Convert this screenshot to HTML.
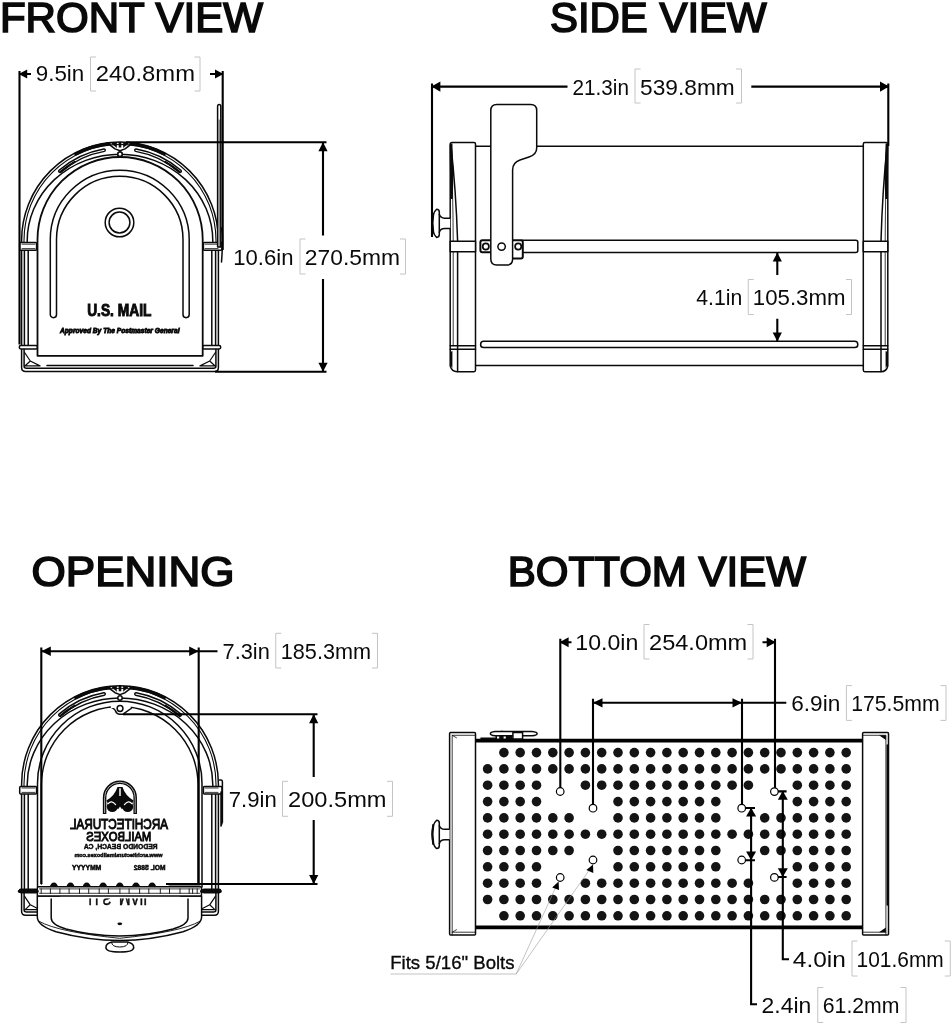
<!DOCTYPE html>
<html><head><meta charset="utf-8"><title>Mailbox dimensions</title>
<style>
html,body{margin:0;padding:0;background:#fff;}
body{width:952px;height:1024px;overflow:hidden;}
svg{display:block;will-change:transform;font-family:'Liberation Sans', sans-serif;fill:#0a0a0a;}
.d{fill:none;stroke:#0a0a0a;stroke-width:1.5;stroke-linecap:round;stroke-linejoin:round}
.w{fill:#fff;stroke:#0a0a0a;stroke-width:1.5;stroke-linejoin:round}
.k{fill:#0a0a0a;stroke:none}
.dm{fill:none;stroke:#000;stroke-width:2.1}
.th{fill:none;stroke:#9a9a9a;stroke-width:0.6}
</style></head><body>
<svg width="952" height="1024" viewBox="0 0 952 1024">
<rect width="952" height="1024" fill="#fff"/>
<g id="titles">
<text x="-0.1" y="31.8" font-size="42.6" font-weight="normal" textLength="263.10" lengthAdjust="spacingAndGlyphs" stroke="#0a0a0a" stroke-width="1.7" stroke-linejoin="miter">FRONT VIEW</text>
<text x="550.0" y="31.8" font-size="42.6" font-weight="normal" textLength="216.60" lengthAdjust="spacingAndGlyphs" stroke="#0a0a0a" stroke-width="1.7" stroke-linejoin="miter">SIDE VIEW</text>
<text x="31.5" y="585.6" font-size="42.6" font-weight="normal" textLength="203.10" lengthAdjust="spacingAndGlyphs" stroke="#0a0a0a" stroke-width="1.7" stroke-linejoin="miter">OPENING</text>
<text x="507.8" y="585.6" font-size="42.6" font-weight="normal" textLength="298.20" lengthAdjust="spacingAndGlyphs" stroke="#0a0a0a" stroke-width="1.7" stroke-linejoin="miter">BOTTOM VIEW</text>
</g>
<g class="d">
<path d="M21.599999999999994,345V240.4A98.4,98.4 0 0 1 218.4,240.4V345"/>
<path d="M21.599999999999994,349V367.5Q21.599999999999994,371.5 25.599999999999994,371.5H214.4Q218.4,371.5 218.4,367.5V349"/>
<path d="M24.099999999999994,349V366.5Q24.099999999999994,368.2 26.5,368.2H213.5Q215.9,368.2 215.9,366.5V349"/>
<path d="M24.0,242.4V240.4A96,96 0 0 1 216.0,240.4V242.4" stroke-width="1.1"/>
<path d="M24.400000000000006,250V345M215.6,250V345M28.200000000000003,250V345M211.8,250V345"/>
<path d="M27.200000000000003,242.4V241A92.8,86.8 0 0 1 212.8,241V242.4"/>
<path d="M74.37,154.58A97.2,97.2 0 0 1 110.68,143.65" stroke-width="3.2" stroke-linecap="butt"/>
<path d="M129.32,143.65A97.2,97.2 0 0 1 165.63,154.58" stroke-width="3.2" stroke-linecap="butt"/>
<path class="d" d="M59.05,170.29A92.9,92.9 0 0 1 103.87,148.91A1.25,1.25 0 0 1 104.30,151.37A90.4,90.4 0 0 0 60.69,172.17A1.25,1.25 0 0 1 59.05,170.29Z"/>
<path class="d" d="M180.95,170.29A92.9,92.9 0 0 0 136.13,148.91A1.25,1.25 0 0 0 135.70,151.37A90.4,90.4 0 0 1 179.31,172.17A1.25,1.25 0 0 0 180.95,170.29Z"/>
<path d="M60.50,171.95A90.7,90.7 0 0 1 74.65,161.85" stroke-width="2.2"/>
<path d="M165.35,161.85A90.7,90.7 0 0 1 179.50,171.95" stroke-width="2.2"/>
<path d="M107.0,142.8L115.0,148.9L120.0,150.8L125.0,148.9L133.0,142.8"/>
<path class="k" d="M110.5,142.5L116.8,147.9V142.10000000000002ZM129.5,142.5L123.2,147.9V142.10000000000002ZM118.7,142.0h2.6v5.4h-2.6Z"/>
<circle cx="120.0" cy="154.2" r="2.2" fill="#fff"/>
<path d="M47.0,365.5H193.0"/>
<path d="M24.599999999999994,352.5L30.299999999999997,361.0L24.599999999999994,366.3M30.299999999999997,361.0L40.0,365.9H24.599999999999994" style="stroke-width:1.2"/>
<path d="M215.4,352.5L209.7,361.0L215.4,366.3M209.7,361.0L200.0,365.9H215.4" style="stroke-width:1.2"/>
</g>
<rect class="w" x="19.70" y="242.6" width="16.90" height="7.6" rx="1"/>
<path class="d" d="M22.0,244.2H35.0M22.0,248.6H35.0" style="stroke-width:0.8"/>
<rect class="w" x="19.30" y="345.5" width="18.3" height="3.4" rx="1.6"/>
<rect class="w" x="203.40" y="242.6" width="18.60" height="7.6" rx="1"/>
<path class="d" d="M218.0,244.2H205.0M218.0,248.6H205.0" style="stroke-width:0.8"/>
<rect class="w" x="202.40" y="345.5" width="18.3" height="3.4" rx="1.6"/>
<g id="front">
<path class="w" d="M37.5,355.8V239.6A82.6,82.6 0 0 1 202.7,239.6V355.8Z" style="stroke-width:1.8"/>
<circle cx="120" cy="154.3" r="2.2" class="w"/>
<path class="d" d="M50.3,314.6V239.6A69.45,69.45 0 0 1 189.2,239.6V314.6A3.1,3.1 0 0 1 183,314.6V239.6A63.25,63.25 0 0 0 56.5,239.6V314.6A3.1,3.1 0 0 1 50.3,314.6Z"/>
<circle class="d" cx="119.5" cy="222.5" r="14.3"/><circle class="d" cx="119.5" cy="222.5" r="10.4"/>
<text x="87.2" y="315.8" font-size="15.6" font-weight="bold" textLength="64.20" lengthAdjust="spacingAndGlyphs" stroke="#0a0a0a" stroke-width="0.9">U.S. MAIL</text>
<text x="60" y="332.8" font-size="7" font-weight="bold" textLength="119.50" lengthAdjust="spacingAndGlyphs" font-style="italic" stroke="#0a0a0a" stroke-width="0.85">Approved By The Postmaster General</text>
<path class="w" d="M217.6,247V106.5Q217.6,104.5 219.2,104.5Q220.8,104.5 220.8,106.5V247Z"/>
<path class="d" d="M219.2,120V247" style="stroke-width:0.7"/>
<path class="d" d="M221.5,228Q223.5,236 221.5,262"/>
</g>
<path class="dm" d="M19.5,71V344.5M222.7,71V250"/>
<path class="dm" d="M19.4,74H31M210,74H222.7"/>
<polygon points="18.80,74.00 27.20,69.60 27.20,78.40" fill="#000"/>
<polygon points="223.40,74.00 215.00,69.60 215.00,78.40" fill="#000"/>
<text x="35.8" y="81.35" font-size="22.8" font-weight="normal" textLength="48.45" lengthAdjust="spacingAndGlyphs" >9.5in</text>
<text x="95.8" y="81.35" font-size="22.8" font-weight="normal" textLength="99.20" lengthAdjust="spacingAndGlyphs" >240.8mm</text>
<path d="M96.0,57H90.5V91H96.0M194.5,57H200V91H194.5" fill="none" stroke="#c4c4c4" stroke-width="1"/>
<path class="dm" d="M126,142.3H326.5M215,371.7H326.5"/>
<path class="dm" d="M323,142.3V235.5M323,279V371.7"/>
<polygon points="323.00,142.30 318.40,151.30 327.60,151.30" fill="#000"/>
<polygon points="323.00,371.70 318.40,362.70 327.60,362.70" fill="#000"/>
<text x="233.3" y="264.75" font-size="22.8" font-weight="normal" textLength="60.20" lengthAdjust="spacingAndGlyphs" >10.6in</text>
<text x="304.8" y="264.75" font-size="22.8" font-weight="normal" textLength="95.20" lengthAdjust="spacingAndGlyphs" >270.5mm</text>
<path d="M305.5,239H300V274H305.5M400.0,239H405.5V274H400.0" fill="none" stroke="#c4c4c4" stroke-width="1"/>
<g id="side">
<path class="d" d="M475.5,146.3H863.3M475.5,365.5H863.3"/>
<path class="w" d="M452,142.6H474Q475.5,142.6 475.5,144V370Q475.5,371.7 474,371.7H457Q452,371.7 450.2,366V144.5Q450.2,142.6 452,142.6Z"/>
<path class="d" d="M450.8,144Q456,190 457.6,241V371.5"/>
<path class="d" d="M451,146Q453,190 453.2,241V345" style="stroke-width:0.8"/>
<path class="k" d="M449.6,145L452.4,143.2L453.1,165Q453.4,185 452.7,199L450.4,199Z"/>
<rect class="w" x="450.2" y="241.2" width="25.3" height="10.5"/>
<path class="d" d="M450.2,345.8H475.5M450.2,349.2H475.5"/>
<path class="k" d="M450.2,352L452.4,351V368L450.2,365Z"/>
<path class="w" d="M450.2,218.2H444.5Q440.6,218.2 439.3,214.6V212Q439.3,209.2 436.6,209.2Q432.2,213 432.2,223.3Q432.2,233.6 436.6,237.4Q439.3,237.4 439.3,234.6V232.2Q440.6,228.6 444.5,228.6H450.2"/>
<path class="d" d="M439.3,214.6V232.2"/>
<path class="d" d="M433.2,214Q431.6,223.3 433.2,232.6" style="stroke-width:2.2"/>
<path class="w" d="M864.8,142.6H886Q887.8,142.6 887.8,144.4V366Q886.5,371.7 881,371.7H864.8Q863.3,371.7 863.3,370V144Q863.3,142.6 864.8,142.6Z"/>
<path class="d" d="M887.2,144Q882.5,190 881,241V371.5"/>
<path class="d" d="M887,147Q885.4,190 885.2,241V345" style="stroke-width:0.8"/>
<path class="k" d="M888.4,145L885.6,143.2L884.9,165Q884.6,185 885.3,199L887.6,199Z"/>
<rect class="w" x="863.3" y="241.2" width="24.5" height="10.5"/>
<path class="d" d="M863.3,345.8H887.8M863.3,349.2H887.8"/>
<path class="k" d="M887.8,352L885.6,351V368L887.8,365Z"/>
<path class="w" d="M522,240.2H855.8Q857.8,240.2 857.8,242.2V250.4Q857.8,252.4 855.8,252.4H522Z"/>
<rect class="w" x="480.6" y="341.3" width="377.2" height="6.2" rx="3.1"/>
<path class="w" d="M482.4,240.2H521Q522.8,240.2 522.8,242.2V256.4Q522.8,258.4 521,258.4H512V252.2H482.4Q480.4,252.2 480.4,250.2V242.2Q480.4,240.2 482.4,240.2Z" style="stroke-width:2"/>
<circle class="d" cx="485.8" cy="246.5" r="3.1" style="stroke-width:1.7"/>
<circle class="d" cx="518.2" cy="246.5" r="3.1" style="stroke-width:1.7"/>
<path class="w" d="M490.8,259V110.5Q490.8,104.5 496.8,104.5H530.7Q536.7,104.5 536.7,110.5V148Q536.7,154.5 529,157L520,160Q512.6,162.5 512.6,170V259Q512.6,265 506.6,265H496.8Q490.8,265 490.8,259Z"/>
<circle class="d" cx="501.6" cy="246.6" r="3.7"/>
</g>
<path class="dm" d="M432,83.4V237M888.3,83.4V146"/>
<path class="dm" d="M432,86.6H567.5M751.3,86.6H888.3"/>
<polygon points="431.40,86.60 440.40,81.50 440.40,91.70" fill="#000"/>
<polygon points="889.00,86.60 880.00,81.50 880.00,91.70" fill="#000"/>
<text x="572.55" y="94.55" font-size="22.8" font-weight="normal" textLength="56.45" lengthAdjust="spacingAndGlyphs" >21.3in</text>
<text x="640.05" y="94.55" font-size="22.8" font-weight="normal" textLength="94.70" lengthAdjust="spacingAndGlyphs" >539.8mm</text>
<path d="M640.5,69H635V103H640.5M736.0,69H741.5V103H736.0" fill="none" stroke="#c4c4c4" stroke-width="1"/>
<path class="dm" d="M777.3,252.6V275M777.3,318.8V341.5"/>
<polygon points="777.30,252.60 772.70,261.60 781.90,261.60" fill="#000"/>
<polygon points="777.30,341.50 772.70,332.50 781.90,332.50" fill="#000"/>
<text x="696.3" y="305.25" font-size="22.8" font-weight="normal" textLength="45.95" lengthAdjust="spacingAndGlyphs" >4.1in</text>
<text x="752.8" y="305.25" font-size="22.8" font-weight="normal" textLength="92.70" lengthAdjust="spacingAndGlyphs" >105.3mm</text>
<path d="M753.75,279.5H748.25V314.5H753.75M846.0,279.5H851.5V314.5H846.0" fill="none" stroke="#c4c4c4" stroke-width="1"/>
<g class="d">
<path d="M21.599999999999994,888.8V784.1999999999999A98.4,98.4 0 0 1 218.4,784.1999999999999V888.8"/>
<path d="M21.599999999999994,892.8V911.3Q21.599999999999994,915.3 25.599999999999994,915.3H214.4Q218.4,915.3 218.4,911.3V892.8"/>
<path d="M24.099999999999994,892.8V910.3Q24.099999999999994,912.0 26.5,912.0H213.5Q215.9,912.0 215.9,910.3V892.8"/>
<path d="M24.0,786.1999999999999V784.1999999999999A96,96 0 0 1 216.0,784.1999999999999V786.1999999999999" stroke-width="1.1"/>
<path d="M24.400000000000006,793.8V888.8M215.6,793.8V888.8M28.200000000000003,793.8V888.8M211.8,793.8V888.8"/>
<path d="M27.200000000000003,786.1999999999999V784.8A92.8,86.8 0 0 1 212.8,784.8V786.1999999999999"/>
<path d="M74.37,698.38A97.2,97.2 0 0 1 110.68,687.45" stroke-width="3.2" stroke-linecap="butt"/>
<path d="M129.32,687.45A97.2,97.2 0 0 1 165.63,698.38" stroke-width="3.2" stroke-linecap="butt"/>
<path class="d" d="M59.05,714.09A92.9,92.9 0 0 1 103.87,692.71A1.25,1.25 0 0 1 104.30,695.17A90.4,90.4 0 0 0 60.69,715.97A1.25,1.25 0 0 1 59.05,714.09Z"/>
<path class="d" d="M180.95,714.09A92.9,92.9 0 0 0 136.13,692.71A1.25,1.25 0 0 0 135.70,695.17A90.4,90.4 0 0 1 179.31,715.97A1.25,1.25 0 0 0 180.95,714.09Z"/>
<path d="M60.50,715.75A90.7,90.7 0 0 1 74.65,705.65" stroke-width="2.2"/>
<path d="M165.35,705.65A90.7,90.7 0 0 1 179.50,715.75" stroke-width="2.2"/>
<path d="M107.0,686.5999999999999L115.0,692.6999999999999L120.0,694.5999999999999L125.0,692.6999999999999L133.0,686.5999999999999"/>
<path class="k" d="M110.5,686.3L116.8,691.6999999999999V685.9ZM129.5,686.3L123.2,691.6999999999999V685.9ZM118.7,685.8h2.6v5.4h-2.6Z"/>
<circle cx="120.0" cy="697.9999999999999" r="2.2" fill="#fff"/>
<path d="M47.0,909.3H193.0"/>
<path d="M24.599999999999994,896.3L30.299999999999997,904.8L24.599999999999994,910.0999999999999M30.299999999999997,904.8L40.0,909.6999999999999H24.599999999999994" style="stroke-width:1.2"/>
<path d="M215.4,896.3L209.7,904.8L215.4,910.0999999999999M209.7,904.8L200.0,909.6999999999999H215.4" style="stroke-width:1.2"/>
</g>
<rect class="w" x="19.70" y="786.4" width="16.90" height="7.6" rx="1"/>
<path class="d" d="M22.0,788.0H35.0M22.0,792.4H35.0" style="stroke-width:0.8"/>
<rect class="w" x="19.30" y="889.3" width="18.3" height="3.4" rx="1.6"/>
<rect class="w" x="203.40" y="786.4" width="18.60" height="7.6" rx="1"/>
<path class="d" d="M218.0,788.0H205.0M218.0,792.4H205.0" style="stroke-width:0.8"/>
<rect class="w" x="202.40" y="889.3" width="18.3" height="3.4" rx="1.6"/>
<g id="opening">
<path class="d" d="M37.5,887V783.4A82.25,82.25 0 0 1 202.0,783.4V887"/>
<path class="d" d="M41.45,884V784.8A78.3,78.3 0 0 1 198.05,784.8V884"/>
<path class="w" d="M109.75,707Q114.25,708 115.55,711Q116.75,714.3 119.75,714.3H122.75L131.75,708" />
<rect x="110.75" y="703" width="20" height="5" fill="#fff"/>
<circle class="d" cx="120.05" cy="708.5" r="2.9"/>
<path d="M104.6,813.9V797.5A15.3,15.3 0 0 1 135.2,797.5V813.9" fill="none" stroke="#0a0a0a" stroke-width="3.5"/>
<path d="M104.6,813V797.5A15.3,15.3 0 0 1 135.2,797.5V813" fill="none" stroke="#d0d0d0" stroke-width="0.8"/>
<path class="k" d="M117.5,787H122.5Q125.4,796 133.6,800.4L131,806L120,809.6L109,806L106.4,800.4Q114.6,796 117.5,787Z"/>
<circle class="k" cx="112.3" cy="806.6" r="5.5"/><circle class="k" cx="127.7" cy="806.6" r="5.5"/>
<path d="M108.2,803.6Q111.5,799.6 115.6,804.6M131.8,803.6Q128.5,799.6 124.4,804.6" fill="none" stroke="#fff" stroke-width="1.2" stroke-linecap="round"/>
<path d="M120,788.2V796" stroke="#fff" stroke-width="1.5" fill="none"/>
<path class="k" d="M118.3,809L120,806.5L121.7,809L120,812.5Z" fill="#fff" style="fill:#fff"/>
<text transform="translate(238,0) scale(-1,1)" x="70" y="829.3" font-size="14.4" font-weight="normal" textLength="98.00" lengthAdjust="spacingAndGlyphs" stroke="#0a0a0a" stroke-width="1.0">ARCHITECTURAL</text>
<text transform="translate(237.60000000000002,0) scale(-1,1)" x="86.3" y="840.7" font-size="13.2" font-weight="normal" textLength="65.00" lengthAdjust="spacingAndGlyphs" stroke="#0a0a0a" stroke-width="1.0">MAILBOXES</text>
<text transform="translate(241.3,0) scale(-1,1)" x="83.8" y="848.6" font-size="6.8" font-weight="bold" textLength="73.70" lengthAdjust="spacingAndGlyphs" stroke="#0a0a0a" stroke-width="0.45">REDONDO BEACH, CA</text>
<text transform="translate(237.0,0) scale(-1,1)" x="74.5" y="856.8" font-size="4.6" font-weight="bold" textLength="88.00" lengthAdjust="spacingAndGlyphs" stroke="#0a0a0a" stroke-width="0.4">www.architecturalmailboxes.com</text>
<text transform="translate(299.3,0) scale(-1,1)" x="133.8" y="869.8" font-size="7.6" font-weight="bold" textLength="31.70" lengthAdjust="spacingAndGlyphs" stroke="#0a0a0a" stroke-width="0.55">MOL 5882</text>
<text transform="translate(173.3,0) scale(-1,1)" x="72" y="869.8" font-size="7.6" font-weight="bold" textLength="29.30" lengthAdjust="spacingAndGlyphs" stroke="#0a0a0a" stroke-width="0.55">MMYYYY</text>
<path class="k" d="M49.9,887A4,4.4 0 0 1 57.9,887Z"/>
<path class="k" d="M66.5,887A4,4.4 0 0 1 74.5,887Z"/>
<path class="k" d="M82.7,887A4,4.4 0 0 1 90.7,887Z"/>
<path class="k" d="M99.1,887A4,4.4 0 0 1 107.1,887Z"/>
<path class="k" d="M115.8,887A4,4.4 0 0 1 123.8,887Z"/>
<path class="k" d="M132,887A4,4.4 0 0 1 140,887Z"/>
<path class="k" d="M148.1,887A4,4.4 0 0 1 156.1,887Z"/>
<path class="d" d="M169.5,884.3H199.5" style="stroke-width:2.6"/>
<path class="w" d="M37.3,896V917Q37.3,925.5 56,931.8Q88,940.5 119.6,940.5Q151,940.5 183,931.8Q201.6,925.5 201.6,917V896Z"/>
<path class="d" d="M39.5,921.5Q58,932 119.6,938.3Q181,932 199.5,921.5" style="stroke-width:0.9"/>
<path class="d" d="M51.2,899V918Q51.2,924.6 66,929Q92,936 119.6,936Q147,936 173,929Q188,924.6 188,918V899"/>
<ellipse class="k" cx="119.8" cy="923.8" rx="2.4" ry="1.4"/>
<text transform="translate(0,891.6) scale(1,-1)" x="88.6" y="0" font-size="17.6" font-weight="normal" textLength="62.4" lengthAdjust="spacingAndGlyphs" stroke="#0a0a0a" stroke-width="0.5">U.S. MAIL</text>
<rect x="60" y="896" width="120" height="2.4" fill="#fff"/>
<rect class="w" x="37.3" y="886.7" width="164.2" height="9.2" rx="1.2"/>
<path class="d" d="M39.5,888.9H199.5M39.5,893.3H199.5" style="stroke-width:0.8"/>
<path class="d" d="M41.2,888.9V893.3M50.4,888.9V893.3M59.9,888.9V893.3M69.1,888.9V893.3M79.5,888.9V893.3M88.7,888.9V893.3M99.2,888.9V893.3M108.4,888.9V893.3M119.9,888.9V893.3M129.1,888.9V893.3M139.6,888.9V893.3M148.8,888.9V893.3M160.3,888.9V893.3M169.5,888.9V893.3M180.0,888.9V893.3M189.2,888.9V893.3M192.6,888.9V893.3M197.2,888.9V893.3" style="stroke-width:0.9"/>
<path d="M19.2,891.3H37.3M201.5,891.3H220.3" stroke="#0a0a0a" stroke-width="3" stroke-linecap="round" fill="none"/>
<path class="w" d="M105.9,947.4Q105.9,943.4 112,942.1H127.6Q133.7,943.4 133.7,947.4Q133.7,952 119.8,952Q105.9,952 105.9,947.4Z"/>
<path class="d" d="M111.6,942.3Q111.6,947 119.8,947Q128,947 128,942.3" style="stroke-width:1"/>
<path class="d" d="M219.4,780H221Q222.4,780 222.4,782V822L221,826V792"/>
</g>
<path class="dm" d="M41.3,647.5V884M198.7,647.5V884"/>
<path class="dm" d="M41.3,651.3H217.5"/>
<polygon points="41.30,651.30 50.80,646.50 50.80,656.10" fill="#000"/>
<polygon points="198.70,651.30 189.20,646.50 189.20,656.10" fill="#000"/>
<text x="222.55" y="658.75" font-size="22.8" font-weight="normal" textLength="47.20" lengthAdjust="spacingAndGlyphs" >7.3in</text>
<text x="280.8" y="658.75" font-size="22.8" font-weight="normal" textLength="90.20" lengthAdjust="spacingAndGlyphs" >185.3mm</text>
<path d="M281.25,633.3H275.75V668H281.25M372.0,633.3H377.5V668H372.0" fill="none" stroke="#c4c4c4" stroke-width="1"/>
<path class="dm" d="M123,714.2H317.5M166,884H317.5"/>
<path class="dm" d="M313.7,714.2V777M313.7,820V884"/>
<polygon points="313.70,714.20 309.10,723.20 318.30,723.20" fill="#000"/>
<polygon points="313.70,884.00 309.10,875.00 318.30,875.00" fill="#000"/>
<text x="228.8" y="807.05" font-size="22.8" font-weight="normal" textLength="47.95" lengthAdjust="spacingAndGlyphs" >7.9in</text>
<text x="288.05" y="807.05" font-size="22.8" font-weight="normal" textLength="98.45" lengthAdjust="spacingAndGlyphs" >200.5mm</text>
<path d="M288.0,781.3H282.5V816.3H288.0M387.0,781.3H392.5V816.3H387.0" fill="none" stroke="#c4c4c4" stroke-width="1"/>
<g id="bottom">
<path d="M475.5,740.6H862.6M475.5,927.4H862.6" stroke="#000" stroke-width="3.7" fill="none"/>
<rect class="w" x="449.6" y="732.5" width="25.9" height="202.5" rx="1"/>
<path class="d" d="M452.2,935V735.3H475.5M452.2,932.2H475.5" style="stroke-width:0.8"/>
<path class="d" d="M452.2,735.3L456.5,737.8M452.2,932.2L456.5,929.7" style="stroke-width:0.8"/>
<rect class="w" x="862.6" y="732.5" width="25.9" height="202.5" rx="1"/>
<path class="d" d="M885.9,935V735.3H862.6M885.9,932.2H862.6" style="stroke-width:0.8"/>
<path class="d" d="M887.3,745V905" style="stroke-width:1.6"/>
<path class="k" d="M885.9,735.3L879,735.3L885.9,740ZM885.9,932.2L879,932.2L885.9,927.5Z"/>
<path class="w" d="M449.6,829.3H444.5Q440.6,829.3 439.3,825.7V823Q439.3,820.2 436.6,820.2Q432.2,824 432.2,834.4Q432.2,844.8 436.6,848.6Q439.3,848.6 439.3,845.8V843.4Q440.6,839.8 444.5,839.8H449.6"/>
<path class="d" d="M439.3,825.7V843.4"/>
<path class="d" d="M433.2,825Q431.6,834.4 433.2,843.8" style="stroke-width:2.2"/>
<path class="k" d="M480.4,737.4H513V739.4H480.4Z"/>
<path class="w" d="M495,731.6H532Q537.1,732.2 537.1,733.7Q537.1,735.2 532,735.8H495Q490.4,735.2 490.4,733.7Q490.4,732.2 495,731.6Z"/>
<path class="k" d="M498,731.6Q501.8,729.8 505.6,731.6Z"/>
<rect class="k" x="495.5" y="735.6" width="16.6" height="3.6"/>
<path d="M497,736.6h2.2v1.8h-2.2ZM503.6,736.6h2.2v1.8h-2.2Z" fill="#fff"/>
<rect class="w" x="512.9" y="732.4" width="9.7" height="6.6"/>
<g fill="#141414"><circle cx="503.9" cy="752.6" r="4.8"/><circle cx="520.2" cy="752.6" r="4.8"/><circle cx="536.5" cy="752.6" r="4.8"/><circle cx="552.8" cy="752.6" r="4.8"/><circle cx="569.1" cy="752.6" r="4.8"/><circle cx="585.4" cy="752.6" r="4.8"/><circle cx="601.7" cy="752.6" r="4.8"/><circle cx="618.0" cy="752.6" r="4.8"/><circle cx="634.3" cy="752.6" r="4.8"/><circle cx="650.6" cy="752.6" r="4.8"/><circle cx="666.9" cy="752.6" r="4.8"/><circle cx="683.2" cy="752.6" r="4.8"/><circle cx="699.5" cy="752.6" r="4.8"/><circle cx="715.8" cy="752.6" r="4.8"/><circle cx="732.1" cy="752.6" r="4.8"/><circle cx="748.4" cy="752.6" r="4.8"/><circle cx="764.7" cy="752.6" r="4.8"/><circle cx="781.0" cy="752.6" r="4.8"/><circle cx="797.3" cy="752.6" r="4.8"/><circle cx="813.6" cy="752.6" r="4.8"/><circle cx="829.9" cy="752.6" r="4.8"/><circle cx="846.2" cy="752.6" r="4.8"/><circle cx="487.6" cy="768.9" r="4.8"/><circle cx="503.9" cy="768.9" r="4.8"/><circle cx="520.2" cy="768.9" r="4.8"/><circle cx="536.5" cy="768.9" r="4.8"/><circle cx="552.8" cy="768.9" r="4.8"/><circle cx="569.1" cy="768.9" r="4.8"/><circle cx="585.4" cy="768.9" r="4.8"/><circle cx="601.7" cy="768.9" r="4.8"/><circle cx="618.0" cy="768.9" r="4.8"/><circle cx="634.3" cy="768.9" r="4.8"/><circle cx="650.6" cy="768.9" r="4.8"/><circle cx="666.9" cy="768.9" r="4.8"/><circle cx="683.2" cy="768.9" r="4.8"/><circle cx="699.5" cy="768.9" r="4.8"/><circle cx="715.8" cy="768.9" r="4.8"/><circle cx="732.1" cy="768.9" r="4.8"/><circle cx="748.4" cy="768.9" r="4.8"/><circle cx="764.7" cy="768.9" r="4.8"/><circle cx="781.0" cy="768.9" r="4.8"/><circle cx="797.3" cy="768.9" r="4.8"/><circle cx="813.6" cy="768.9" r="4.8"/><circle cx="829.9" cy="768.9" r="4.8"/><circle cx="846.2" cy="768.9" r="4.8"/><circle cx="487.6" cy="785.2" r="4.8"/><circle cx="503.9" cy="785.2" r="4.8"/><circle cx="520.2" cy="785.2" r="4.8"/><circle cx="536.5" cy="785.2" r="4.8"/><circle cx="585.4" cy="785.2" r="4.8"/><circle cx="601.7" cy="785.2" r="4.8"/><circle cx="618.0" cy="785.2" r="4.8"/><circle cx="634.3" cy="785.2" r="4.8"/><circle cx="650.6" cy="785.2" r="4.8"/><circle cx="666.9" cy="785.2" r="4.8"/><circle cx="683.2" cy="785.2" r="4.8"/><circle cx="699.5" cy="785.2" r="4.8"/><circle cx="715.8" cy="785.2" r="4.8"/><circle cx="732.1" cy="785.2" r="4.8"/><circle cx="748.4" cy="785.2" r="4.8"/><circle cx="797.3" cy="785.2" r="4.8"/><circle cx="813.6" cy="785.2" r="4.8"/><circle cx="829.9" cy="785.2" r="4.8"/><circle cx="846.2" cy="785.2" r="4.8"/><circle cx="487.6" cy="801.6" r="4.8"/><circle cx="503.9" cy="801.6" r="4.8"/><circle cx="520.2" cy="801.6" r="4.8"/><circle cx="536.5" cy="801.6" r="4.8"/><circle cx="618.0" cy="801.6" r="4.8"/><circle cx="634.3" cy="801.6" r="4.8"/><circle cx="650.6" cy="801.6" r="4.8"/><circle cx="666.9" cy="801.6" r="4.8"/><circle cx="683.2" cy="801.6" r="4.8"/><circle cx="699.5" cy="801.6" r="4.8"/><circle cx="715.8" cy="801.6" r="4.8"/><circle cx="797.3" cy="801.6" r="4.8"/><circle cx="813.6" cy="801.6" r="4.8"/><circle cx="829.9" cy="801.6" r="4.8"/><circle cx="846.2" cy="801.6" r="4.8"/><circle cx="487.6" cy="817.9" r="4.8"/><circle cx="503.9" cy="817.9" r="4.8"/><circle cx="520.2" cy="817.9" r="4.8"/><circle cx="536.5" cy="817.9" r="4.8"/><circle cx="552.8" cy="817.9" r="4.8"/><circle cx="569.1" cy="817.9" r="4.8"/><circle cx="618.0" cy="817.9" r="4.8"/><circle cx="634.3" cy="817.9" r="4.8"/><circle cx="650.6" cy="817.9" r="4.8"/><circle cx="666.9" cy="817.9" r="4.8"/><circle cx="683.2" cy="817.9" r="4.8"/><circle cx="699.5" cy="817.9" r="4.8"/><circle cx="715.8" cy="817.9" r="4.8"/><circle cx="764.7" cy="817.9" r="4.8"/><circle cx="781.0" cy="817.9" r="4.8"/><circle cx="797.3" cy="817.9" r="4.8"/><circle cx="813.6" cy="817.9" r="4.8"/><circle cx="829.9" cy="817.9" r="4.8"/><circle cx="846.2" cy="817.9" r="4.8"/><circle cx="487.6" cy="834.2" r="4.8"/><circle cx="503.9" cy="834.2" r="4.8"/><circle cx="520.2" cy="834.2" r="4.8"/><circle cx="536.5" cy="834.2" r="4.8"/><circle cx="552.8" cy="834.2" r="4.8"/><circle cx="569.1" cy="834.2" r="4.8"/><circle cx="585.4" cy="834.2" r="4.8"/><circle cx="601.7" cy="834.2" r="4.8"/><circle cx="618.0" cy="834.2" r="4.8"/><circle cx="634.3" cy="834.2" r="4.8"/><circle cx="650.6" cy="834.2" r="4.8"/><circle cx="666.9" cy="834.2" r="4.8"/><circle cx="683.2" cy="834.2" r="4.8"/><circle cx="699.5" cy="834.2" r="4.8"/><circle cx="715.8" cy="834.2" r="4.8"/><circle cx="732.1" cy="834.2" r="4.8"/><circle cx="748.4" cy="834.2" r="4.8"/><circle cx="764.7" cy="834.2" r="4.8"/><circle cx="781.0" cy="834.2" r="4.8"/><circle cx="797.3" cy="834.2" r="4.8"/><circle cx="813.6" cy="834.2" r="4.8"/><circle cx="829.9" cy="834.2" r="4.8"/><circle cx="846.2" cy="834.2" r="4.8"/><circle cx="487.6" cy="850.5" r="4.8"/><circle cx="503.9" cy="850.5" r="4.8"/><circle cx="520.2" cy="850.5" r="4.8"/><circle cx="536.5" cy="850.5" r="4.8"/><circle cx="552.8" cy="850.5" r="4.8"/><circle cx="569.1" cy="850.5" r="4.8"/><circle cx="618.0" cy="850.5" r="4.8"/><circle cx="634.3" cy="850.5" r="4.8"/><circle cx="650.6" cy="850.5" r="4.8"/><circle cx="666.9" cy="850.5" r="4.8"/><circle cx="683.2" cy="850.5" r="4.8"/><circle cx="699.5" cy="850.5" r="4.8"/><circle cx="715.8" cy="850.5" r="4.8"/><circle cx="764.7" cy="850.5" r="4.8"/><circle cx="781.0" cy="850.5" r="4.8"/><circle cx="797.3" cy="850.5" r="4.8"/><circle cx="813.6" cy="850.5" r="4.8"/><circle cx="829.9" cy="850.5" r="4.8"/><circle cx="846.2" cy="850.5" r="4.8"/><circle cx="487.6" cy="866.8" r="4.8"/><circle cx="503.9" cy="866.8" r="4.8"/><circle cx="520.2" cy="866.8" r="4.8"/><circle cx="536.5" cy="866.8" r="4.8"/><circle cx="618.0" cy="866.8" r="4.8"/><circle cx="634.3" cy="866.8" r="4.8"/><circle cx="650.6" cy="866.8" r="4.8"/><circle cx="666.9" cy="866.8" r="4.8"/><circle cx="683.2" cy="866.8" r="4.8"/><circle cx="699.5" cy="866.8" r="4.8"/><circle cx="715.8" cy="866.8" r="4.8"/><circle cx="797.3" cy="866.8" r="4.8"/><circle cx="813.6" cy="866.8" r="4.8"/><circle cx="829.9" cy="866.8" r="4.8"/><circle cx="846.2" cy="866.8" r="4.8"/><circle cx="487.6" cy="883.2" r="4.8"/><circle cx="503.9" cy="883.2" r="4.8"/><circle cx="520.2" cy="883.2" r="4.8"/><circle cx="536.5" cy="883.2" r="4.8"/><circle cx="585.4" cy="883.2" r="4.8"/><circle cx="601.7" cy="883.2" r="4.8"/><circle cx="618.0" cy="883.2" r="4.8"/><circle cx="634.3" cy="883.2" r="4.8"/><circle cx="650.6" cy="883.2" r="4.8"/><circle cx="666.9" cy="883.2" r="4.8"/><circle cx="683.2" cy="883.2" r="4.8"/><circle cx="699.5" cy="883.2" r="4.8"/><circle cx="715.8" cy="883.2" r="4.8"/><circle cx="732.1" cy="883.2" r="4.8"/><circle cx="748.4" cy="883.2" r="4.8"/><circle cx="797.3" cy="883.2" r="4.8"/><circle cx="813.6" cy="883.2" r="4.8"/><circle cx="829.9" cy="883.2" r="4.8"/><circle cx="846.2" cy="883.2" r="4.8"/><circle cx="487.6" cy="899.5" r="4.8"/><circle cx="503.9" cy="899.5" r="4.8"/><circle cx="520.2" cy="899.5" r="4.8"/><circle cx="536.5" cy="899.5" r="4.8"/><circle cx="552.8" cy="899.5" r="4.8"/><circle cx="569.1" cy="899.5" r="4.8"/><circle cx="585.4" cy="899.5" r="4.8"/><circle cx="601.7" cy="899.5" r="4.8"/><circle cx="618.0" cy="899.5" r="4.8"/><circle cx="634.3" cy="899.5" r="4.8"/><circle cx="650.6" cy="899.5" r="4.8"/><circle cx="666.9" cy="899.5" r="4.8"/><circle cx="683.2" cy="899.5" r="4.8"/><circle cx="699.5" cy="899.5" r="4.8"/><circle cx="715.8" cy="899.5" r="4.8"/><circle cx="732.1" cy="899.5" r="4.8"/><circle cx="748.4" cy="899.5" r="4.8"/><circle cx="764.7" cy="899.5" r="4.8"/><circle cx="781.0" cy="899.5" r="4.8"/><circle cx="797.3" cy="899.5" r="4.8"/><circle cx="813.6" cy="899.5" r="4.8"/><circle cx="829.9" cy="899.5" r="4.8"/><circle cx="846.2" cy="899.5" r="4.8"/><circle cx="503.9" cy="915.8" r="4.8"/><circle cx="520.2" cy="915.8" r="4.8"/><circle cx="536.5" cy="915.8" r="4.8"/><circle cx="552.8" cy="915.8" r="4.8"/><circle cx="569.1" cy="915.8" r="4.8"/><circle cx="585.4" cy="915.8" r="4.8"/><circle cx="601.7" cy="915.8" r="4.8"/><circle cx="618.0" cy="915.8" r="4.8"/><circle cx="634.3" cy="915.8" r="4.8"/><circle cx="650.6" cy="915.8" r="4.8"/><circle cx="666.9" cy="915.8" r="4.8"/><circle cx="683.2" cy="915.8" r="4.8"/><circle cx="699.5" cy="915.8" r="4.8"/><circle cx="715.8" cy="915.8" r="4.8"/><circle cx="732.1" cy="915.8" r="4.8"/><circle cx="748.4" cy="915.8" r="4.8"/><circle cx="764.7" cy="915.8" r="4.8"/><circle cx="781.0" cy="915.8" r="4.8"/><circle cx="797.3" cy="915.8" r="4.8"/><circle cx="813.6" cy="915.8" r="4.8"/><circle cx="829.9" cy="915.8" r="4.8"/><circle cx="846.2" cy="915.8" r="4.8"/></g>
</g>
<path class="dm" d="M560.3,638.8V788M775,638.8V788"/>
<path class="dm" d="M560.3,642.3H571.5M762.5,642.3H775"/>
<polygon points="559.60,642.30 568.60,637.30 568.60,647.30" fill="#000"/>
<polygon points="775.70,642.30 766.70,637.30 766.70,647.30" fill="#000"/>
<text x="575.3" y="649.55" font-size="22.8" font-weight="normal" textLength="62.95" lengthAdjust="spacingAndGlyphs" >10.0in</text>
<text x="649.05" y="649.55" font-size="22.8" font-weight="normal" textLength="98.20" lengthAdjust="spacingAndGlyphs" >254.0mm</text>
<path d="M649.5,624.5H644V659H649.5M747.5,624.5H753V659H747.5" fill="none" stroke="#c4c4c4" stroke-width="1"/>
<path class="dm" d="M593,698.8V804.5M742,698.8V804.5"/>
<path class="dm" d="M593,702.8H786.3"/>
<polygon points="593.00,702.80 602.50,698.20 602.50,707.40" fill="#000"/>
<polygon points="742.00,702.80 732.50,698.20 732.50,707.40" fill="#000"/>
<text x="791.3" y="710.75" font-size="22.8" font-weight="normal" textLength="48.95" lengthAdjust="spacingAndGlyphs" >6.9in</text>
<text x="851.1999999999999" y="710.75" font-size="22.8" font-weight="normal" textLength="88.40" lengthAdjust="spacingAndGlyphs" >175.5mm</text>
<path d="M851.9,685.6H846.4V720.4H851.9M940.5,685.6H946V720.4H940.5" fill="none" stroke="#c4c4c4" stroke-width="1"/>
<path class="dm" d="M782.8,791.6V877.4M777.6,791.4H786.6M777.6,877.0H786.6M782.8,877.4V959.3H789"/>
<path class="dm" d="M751.1,808.2V860M745.2,808H755M745.2,860.2H755M751.1,860V1004.3H757"/>
<polygon points="782.80,791.00 777.80,799.80 787.80,799.80" fill="#000"/>
<polygon points="782.80,877.00 777.80,868.20 787.80,868.20" fill="#000"/>
<polygon points="751.10,807.80 746.10,816.60 756.10,816.60" fill="#000"/>
<polygon points="751.10,860.20 746.10,851.40 756.10,851.40" fill="#000"/>
<text x="792.8" y="966.75" font-size="22.8" font-weight="normal" textLength="52.95" lengthAdjust="spacingAndGlyphs" >4.0in</text>
<text x="856.55" y="966.75" font-size="22.8" font-weight="normal" textLength="87.20" lengthAdjust="spacingAndGlyphs" >101.6mm</text>
<path d="M857.5,941H852V976H857.5M944.75,941H950.25V976H944.75" fill="none" stroke="#c4c4c4" stroke-width="1"/>
<text x="761.55" y="1012.55" font-size="22.8" font-weight="normal" textLength="49.70" lengthAdjust="spacingAndGlyphs" >2.4in</text>
<text x="822.8" y="1012.55" font-size="22.8" font-weight="normal" textLength="76.70" lengthAdjust="spacingAndGlyphs" >61.2mm</text>
<path d="M823.25,987.5H817.75V1022.5H823.25M900.5,987.5H906V1022.5H900.5" fill="none" stroke="#c4c4c4" stroke-width="1"/>
<circle cx="560.2" cy="791.5" r="3.8" fill="#fff" stroke="#000" stroke-width="1.2"/>
<circle cx="593" cy="808.2" r="3.8" fill="#fff" stroke="#000" stroke-width="1.2"/>
<circle cx="593" cy="860" r="3.8" fill="#fff" stroke="#000" stroke-width="1.2"/>
<circle cx="560.2" cy="877.5" r="3.8" fill="#fff" stroke="#000" stroke-width="1.2"/>
<circle cx="774.4" cy="791.6" r="3.8" fill="#fff" stroke="#000" stroke-width="1.2"/>
<circle cx="741.7" cy="808.2" r="3.8" fill="#fff" stroke="#000" stroke-width="1.2"/>
<circle cx="741.7" cy="860" r="3.8" fill="#fff" stroke="#000" stroke-width="1.2"/>
<circle cx="774.4" cy="877.4" r="3.8" fill="#fff" stroke="#000" stroke-width="1.2"/>
<path class="th" d="M390.6,974H516.2L556.3,886M516.2,974L590,869"/>
<polygon points="558.6,881.6 552.2,887.5 559,890" fill="#000"/><polygon points="593,864.5 586.4,870 593.3,873" fill="#000"/>
<text x="390.2" y="969.2" font-size="19" font-weight="normal" textLength="124.40" lengthAdjust="spacingAndGlyphs" stroke="#0a0a0a" stroke-width="0.35">Fits 5/16&quot; Bolts</text>
</svg></body></html>
